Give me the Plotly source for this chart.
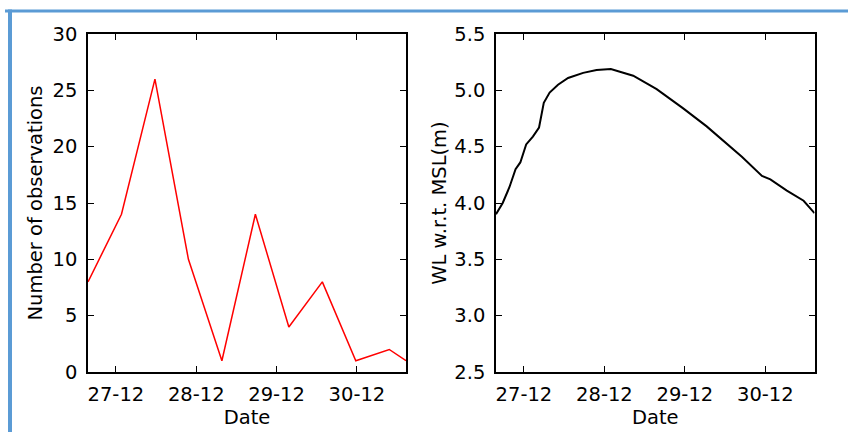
import plotly.graph_objects as go

# ---- data ----
obs_times = ["2015-12-26 15:40", "2015-12-27 01:40", "2015-12-27 11:40", "2015-12-27 21:40",
             "2015-12-28 07:40", "2015-12-28 17:40", "2015-12-29 03:40", "2015-12-29 13:40",
             "2015-12-29 23:40", "2015-12-30 09:40", "2015-12-30 14:40"]
obs_counts = [8, 14, 26, 10, 1, 14, 4, 8, 1, 2, 1]

wl_times = ["2015-12-26 15:40", "2015-12-26 17:40", "2015-12-26 19:40", "2015-12-26 21:30",
            "2015-12-26 22:55", "2015-12-27 00:40", "2015-12-27 02:40", "2015-12-27 04:30",
            "2015-12-27 05:55", "2015-12-27 07:40", "2015-12-27 10:10", "2015-12-27 13:10",
            "2015-12-27 17:40", "2015-12-27 21:40", "2015-12-28 01:55", "2015-12-28 08:35",
            "2015-12-28 15:35", "2015-12-28 23:30", "2015-12-29 06:30", "2015-12-29 12:30",
            "2015-12-29 17:00", "2015-12-29 23:00", "2015-12-30 01:30", "2015-12-30 06:25",
            "2015-12-30 11:25", "2015-12-30 14:40"]
wl_values = [3.90, 4.00, 4.14, 4.30, 4.36, 4.52, 4.59, 4.67, 4.89, 4.98, 5.05, 5.11,
             5.155, 5.18, 5.19, 5.13, 5.01, 4.84, 4.68, 4.53, 4.41, 4.24, 4.21, 4.11,
             4.02, 3.91]

x_ticks = ["2015-12-27", "2015-12-28", "2015-12-29", "2015-12-30"]
x_ticklabels = ["27-12", "28-12", "29-12", "30-12"]
x_range = ["2015-12-26 15:40", "2015-12-30 14:40"]

W, H = 848, 432
FONT = "DejaVu Sans"
FS = 19.5

fig = go.Figure()
fig.add_trace(go.Scatter(x=obs_times, y=obs_counts, mode="lines",
                         line=dict(color="#ff0000", width=1.5), xaxis="x", yaxis="y",
                         showlegend=False))
fig.add_trace(go.Scatter(x=wl_times, y=wl_values, mode="lines",
                         line=dict(color="#000000", width=2), xaxis="x2", yaxis="y2",
                         showlegend=False))

def px_x(p):
    return p / W

def px_y(p):
    return 1 - p / H

common_axis = dict(showline=True, linecolor="black", linewidth=1.5, mirror="ticks",
                   ticks="inside", ticklen=6, tickwidth=1, tickcolor="black",
                   showgrid=False, zeroline=False,
                   tickfont=dict(family=FONT, size=FS, color="black"),
                   automargin=False)

xaxis_common = dict(common_axis, type="date", range=x_range, tickvals=x_ticks,
                    ticktext=x_ticklabels, ticklabelstandoff=4,
                    title=dict(text="Date", font=dict(family=FONT, size=FS, color="black"),
                               standoff=3))

fig.update_layout(
    width=W, height=H,
    margin=dict(l=0, r=0, t=0, b=0),
    paper_bgcolor="white", plot_bgcolor="white",
    font=dict(family=FONT, size=FS, color="black"),
    xaxis=dict(xaxis_common, domain=[px_x(88), px_x(406)], anchor="y"),
    yaxis=dict(common_axis, domain=[px_y(372), px_y(34)], range=[0, 30], dtick=5,
               tick0=0, anchor="x", ticklabelstandoff=5,
               title=dict(text="Number of observations",
                          font=dict(family=FONT, size=FS, color="black"), standoff=5)),
    xaxis2=dict(xaxis_common, domain=[px_x(496), px_x(814.5)], anchor="y2"),
    yaxis2=dict(common_axis, domain=[px_y(372), px_y(34)], range=[2.5, 5.5], dtick=0.5,
                tick0=2.5, tickformat=".1f", anchor="x2", ticklabelstandoff=5,
                title=dict(text="WL w.r.t. MSL(m)",
                           font=dict(family=FONT, size=FS, color="black"), standoff=3)),
    shapes=[
        dict(type="line", xref="paper", yref="paper", x0=px_x(5), x1=1.0,
             y0=px_y(11), y1=px_y(11), line=dict(color="#5b9bd5", width=3)),
        dict(type="line", xref="paper", yref="paper", x0=px_x(10), x1=px_x(10),
             y0=px_y(9.5), y1=0.0, line=dict(color="#5b9bd5", width=4)),
    ],
)

fig.write_html("out.html", config={"displayModeBar": False},
               post_script="document.body.style.margin='0';document.body.style.overflow='hidden';")
